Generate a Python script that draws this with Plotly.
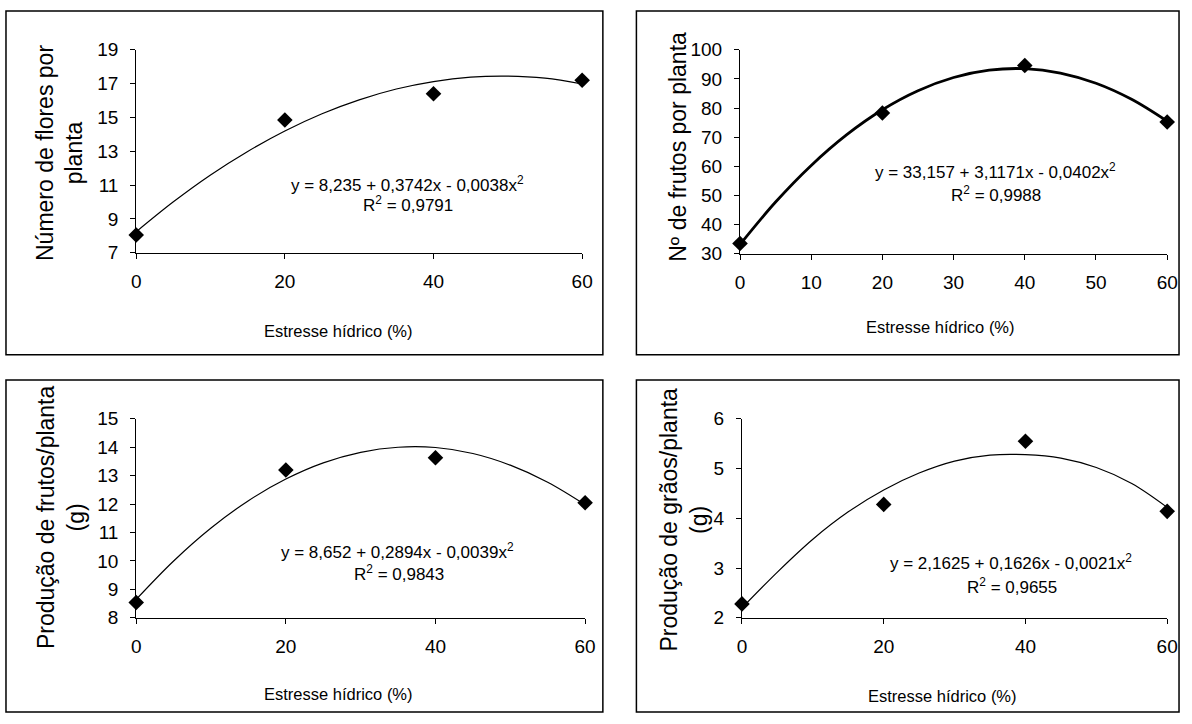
import plotly.graph_objects as go

W, H = 1192, 724

# ---------------- data ----------------
stress = [0, 20, 40, 60]
curve_x = [0, 5, 10, 15, 20, 25, 30, 35, 40, 45, 50, 55, 60]

flores_obs = [8.05, 14.85, 16.4, 17.2]
flores_fit = [8.24, 10.01, 11.60, 12.99, 14.20, 15.22, 16.04, 16.68, 17.12, 17.38, 17.44, 17.32, 16.98]

frutos_obs = [33.5, 78.3, 94.6, 75.2]
frutos_fit = [33.16, 47.74, 60.31, 70.87, 79.42, 85.96, 90.49, 93.01, 93.52, 92.02, 88.51, 82.99, 75.46]

prodfrutos_obs = [8.54, 13.2, 13.63, 12.05]
prodfrutos_fit = [8.65, 10.00, 11.16, 12.12, 12.88, 13.45, 13.82, 14.00, 13.99, 13.78, 13.37, 12.77, 11.98]

graos_obs = [2.28, 4.28, 5.55, 4.14]
graos_fit = [2.2, 2.92, 3.58, 4.13, 4.57, 4.91, 5.15, 5.27, 5.28, 5.21, 5.02, 4.70, 4.22]

eq_texts = [
    ("y = 8,235 + 0,3742x - 0,0038x<sup>2</sup>", "R<sup>2</sup> = 0,9791"),
    ("y = 33,157 + 3,1171x - 0,0402x<sup>2</sup>", "R<sup>2</sup> = 0,9988"),
    ("y = 8,652 + 0,2894x - 0,0039x<sup>2</sup>", "R<sup>2</sup> = 0,9843"),
    ("y = 2,1625 + 0,1626x - 0,0021x<sup>2</sup>", "R<sup>2</sup> = 0,9655"),
]
y_titles = ["Número de flores por<br>planta", "Nº de frutos por planta",
            "Produção de frutos/planta<br>(g)", "Produção de grãos/planta<br>(g)"]
x_title = "Estresse hídrico (%)"

FONT = "Arial, Liberation Sans, sans-serif"

def fx(px):
    return px / W

def fy(py):
    return 1 - py / H

# panel geometry in pixels: area=(x0, x1, ytop, ybottom), box=(x0, x1, ytop, ybottom)
panels = [
    dict(obs=flores_obs, fit=flores_fit, yr=[7, 19], dy=2, dx=20, lw=1.2,
         area=(133, 585, 41, 250), box=(1, 606, 1, 355),
         eq=(408, 179), r2=(408, 200), xt=(338, 331), yt=(55, 147)),
    dict(obs=frutos_obs, fit=frutos_fit, yr=[30, 100], dy=10, dx=10, lw=2.8,
         area=(745, 1178, 41, 251), box=(640, 1190, 1, 355),
         eq=(1004, 166), r2=(1004, 190), xt=(948, 326), yt=(682, 141)),
    dict(obs=prodfrutos_obs, fit=prodfrutos_fit, yr=[8, 15], dy=1, dx=20, lw=1.2,
         area=(133, 588, 421, 626), box=(1, 606, 381, 723),
         eq=(398, 557), r2=(399, 580), xt=(338, 704), yt=(57, 522)),
    dict(obs=graos_obs, fit=graos_fit, yr=[2, 6], dy=1, dx=20, lw=1.2,
         area=(747, 1178, 421, 626), box=(640, 1190, 381, 723),
         eq=(1020, 569), r2=(1021, 593), xt=(950, 706), yt=(688, 525)),
]

fig = go.Figure()
annotations = []
shapes = []

for i, p in enumerate(panels, start=1):
    xa = "x" if i == 1 else f"x{i}"
    ya = "y" if i == 1 else f"y{i}"
    fig.add_trace(go.Scatter(x=curve_x, y=p["fit"], mode="lines", line_shape="spline",
                             line=dict(color="black", width=p["lw"]),
                             xaxis=xa, yaxis=ya, showlegend=False, cliponaxis=False,
                             hoverinfo="skip"))
    fig.add_trace(go.Scatter(x=stress, y=p["obs"], mode="markers",
                             marker=dict(symbol="diamond", size=12, color="black"),
                             xaxis=xa, yaxis=ya, showlegend=False, cliponaxis=False))
    x0, x1, yt_, yb_ = p["area"]
    axcommon = dict(showgrid=False, zeroline=False, showline=True, linecolor="black",
                    linewidth=1, ticks="outside", ticklen=5, tickcolor="black",
                    tickfont=dict(family=FONT, size=19, color="black"))
    fig.update_layout(**{
        ("xaxis" if i == 1 else f"xaxis{i}"): dict(
            domain=[fx(x0), fx(x1)], range=[0, 60], dtick=p["dx"], tick0=0,
            anchor=ya, ticklabelstandoff=6, **axcommon),
        ("yaxis" if i == 1 else f"yaxis{i}"): dict(
            domain=[fy(yb_), fy(yt_)], range=p["yr"], dtick=p["dy"], tick0=p["yr"][0],
            anchor=xa, ticklabelstandoff=8, **axcommon),
    })
    bx0, bx1, by0, by1 = p["box"]
    shapes.append(dict(type="rect", xref="paper", yref="paper",
                       x0=fx(bx0), x1=fx(bx1), y0=fy(by1), y1=fy(by0),
                       line=dict(color="black", width=1.5)))
    eq, r2 = eq_texts[i - 1]
    for txt, (ax, ay) in ((eq, p["eq"]), (r2, p["r2"])):
        annotations.append(dict(text=txt, x=fx(ax), y=fy(ay), xref="paper", yref="paper",
                                showarrow=False, xanchor="center", yanchor="middle",
                                font=dict(family=FONT, size=17, color="black")))
    annotations.append(dict(text=x_title, x=fx(p["xt"][0]), y=fy(p["xt"][1]),
                            xref="paper", yref="paper", showarrow=False,
                            xanchor="center", yanchor="middle",
                            font=dict(family=FONT, size=16.5, color="black")))
    annotations.append(dict(text=y_titles[i - 1], x=fx(p["yt"][0]), y=fy(p["yt"][1]),
                            xref="paper", yref="paper", showarrow=False, textangle=-90,
                            xanchor="center", yanchor="middle",
                            font=dict(family=FONT, size=23, color="black")))

fig.update_layout(width=W, height=H, margin=dict(l=0, r=0, t=0, b=0),
                  paper_bgcolor="white", plot_bgcolor="white",
                  annotations=annotations, shapes=shapes, showlegend=False)

fig.write_html("out.html", config={"displayModeBar": False},
               post_script="document.body.style.margin='0';document.body.style.overflow='hidden';")
